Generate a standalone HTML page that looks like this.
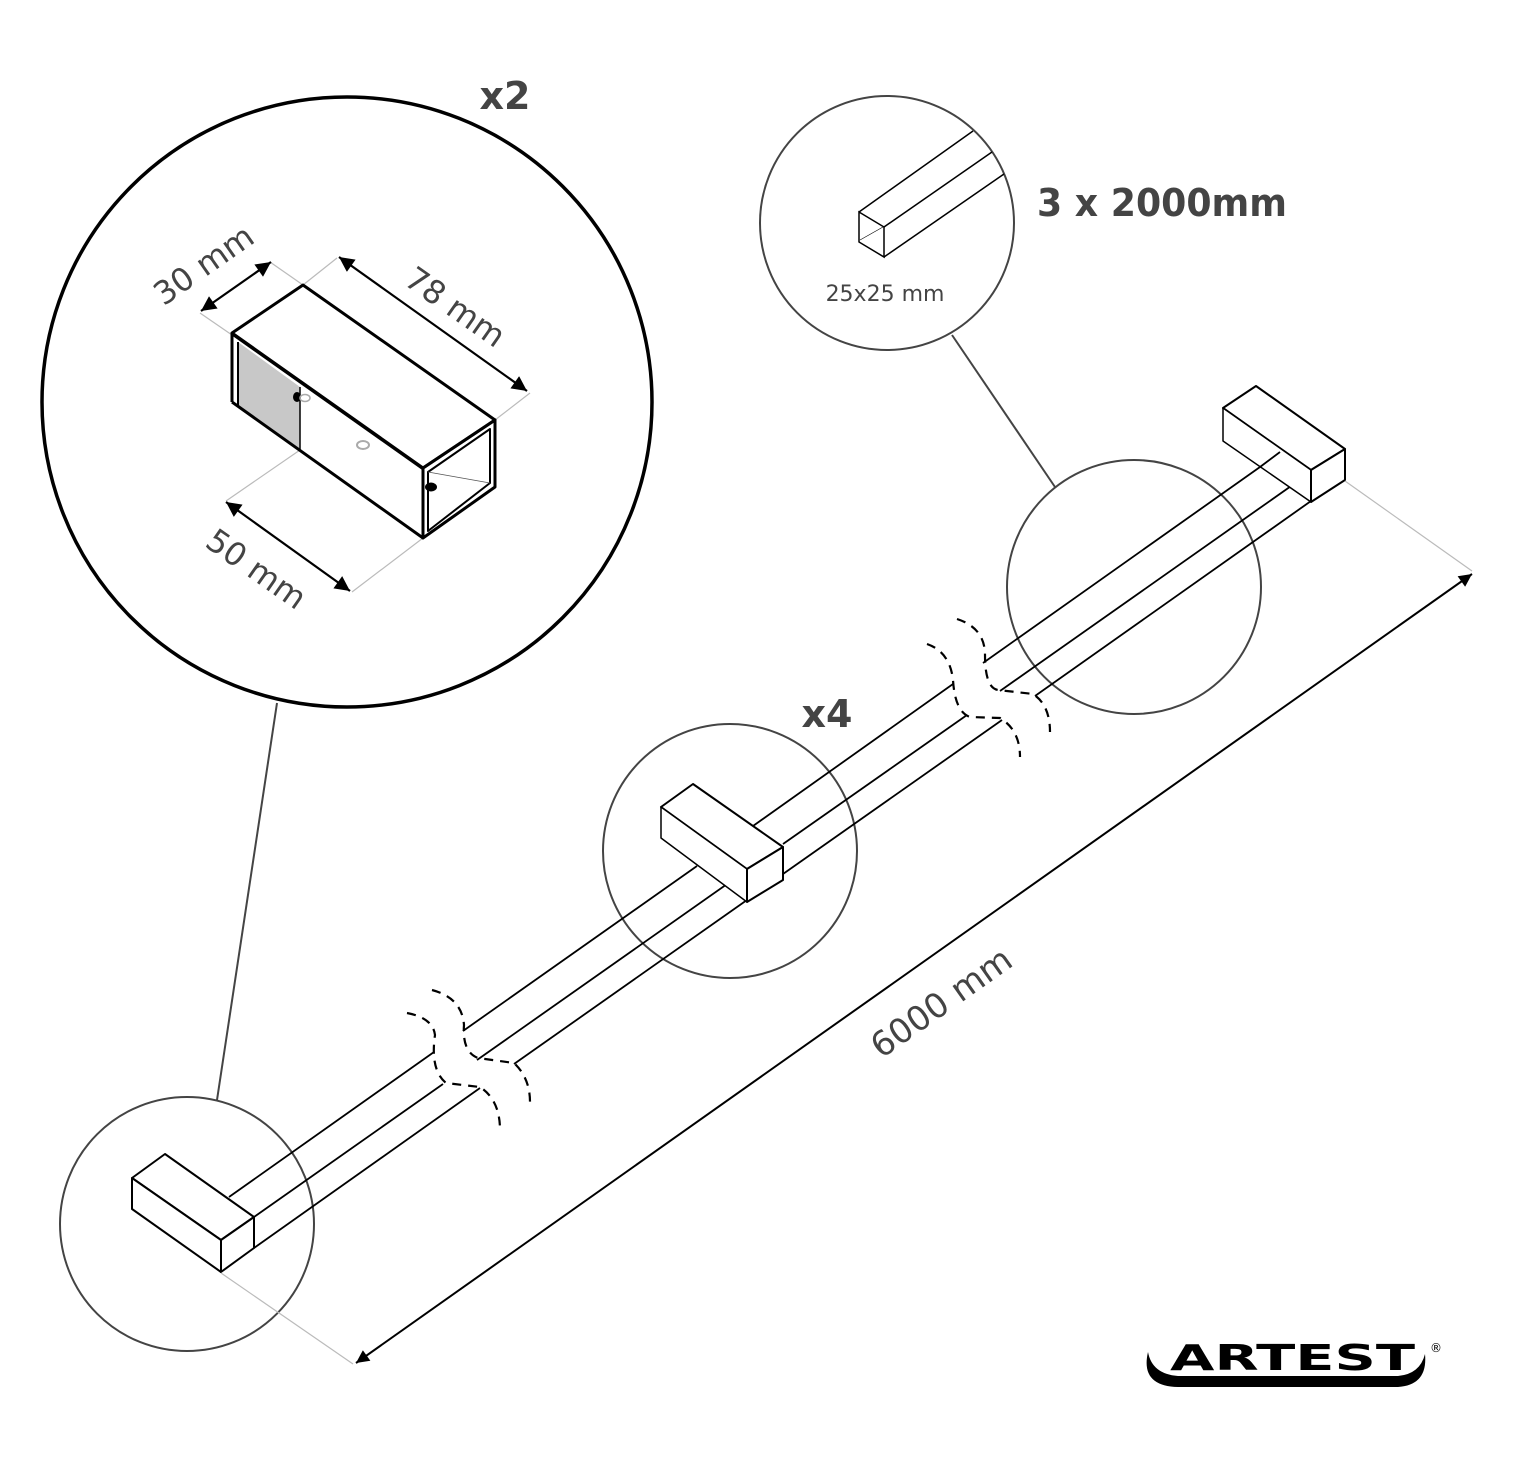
<!DOCTYPE html>
<html><head><meta charset="utf-8"><style>
html,body{margin:0;padding:0;background:#fff;}
svg{display:block;}
text{font-family:"DejaVu Sans","Liberation Sans",sans-serif;}
</style></head><body>
<svg width="1514" height="1482" viewBox="0 0 1514 1482" xmlns="http://www.w3.org/2000/svg">
<defs>
<marker id="ar" viewBox="0 0 10 10" refX="10" refY="5" markerWidth="20" markerHeight="13" markerUnits="userSpaceOnUse" orient="auto-start-reverse"><path d="M0,0 L10,5 L0,10 z" fill="#000"/></marker>
<marker id="arb" viewBox="0 0 10 10" refX="10" refY="5" markerWidth="24" markerHeight="15" markerUnits="userSpaceOnUse" orient="auto-start-reverse"><path d="M0,0 L10,5 L0,10 z" fill="#000"/></marker>
</defs>

<!-- Big circle -->
<circle cx="347" cy="402" r="305" fill="none" stroke="#000" stroke-width="3.5"/>
<line x1="277" y1="703" x2="217" y2="1100" stroke="#444" stroke-width="2"/>
<text x="505" y="109" font-size="38" font-weight="bold" fill="#444" text-anchor="middle">x2</text>

<g stroke="#bbb" stroke-width="1.2">
<line x1="200" y1="313" x2="232" y2="335"/>
<line x1="270" y1="262" x2="303" y2="285"/>
<line x1="303" y1="285" x2="337" y2="258"/>
<line x1="495" y1="420" x2="530" y2="393"/>
<line x1="300" y1="450" x2="226" y2="501"/>
<line x1="423" y1="538" x2="352" y2="592"/>
</g>
<polygon points="238,342 300,387 300,450 238,405" fill="#c8c8c8"/>
<g fill="none" stroke="#000" stroke-width="3" stroke-linejoin="round">
<polygon points="232,333 303,285 495,420 423,468"/>
<line x1="232" y1="333" x2="232" y2="402"/>
<line x1="232" y1="402" x2="423" y2="538"/>
<line x1="423" y1="468" x2="423" y2="538"/>
<polygon points="423,468 495,420 495,487 423,538"/>
<polygon points="428,472 490,429 490,483 428,531" stroke-width="2"/>
<line x1="238" y1="342" x2="238" y2="405" stroke-width="2"/>
<line x1="300" y1="387" x2="300" y2="450" stroke-width="1.5"/>
</g>
<line x1="232" y1="335" x2="423" y2="470" stroke="#000" stroke-width="1"/>
<line x1="428" y1="472" x2="490" y2="483" stroke="#555" stroke-width="0.8"/>
<ellipse cx="297" cy="397" rx="4" ry="5" fill="#000"/>
<ellipse cx="305" cy="398" rx="5" ry="3.5" fill="none" stroke="#aaa" stroke-width="1.5"/>
<ellipse cx="363" cy="445" rx="6" ry="4" fill="none" stroke="#aaa" stroke-width="2"/>
<ellipse cx="431" cy="487" rx="6" ry="4.5" fill="#000"/>
<g stroke="#000" stroke-width="2.2">
<line x1="201" y1="311" x2="271" y2="262" marker-start="url(#arb)" marker-end="url(#arb)"/>
<line x1="339" y1="257" x2="527" y2="391" marker-start="url(#arb)" marker-end="url(#arb)"/>
<line x1="226" y1="502" x2="350" y2="591" marker-start="url(#arb)" marker-end="url(#arb)"/>
</g>
<text font-size="32" fill="#444" text-anchor="middle" transform="translate(210,274) rotate(-35)">30 mm</text>
<text font-size="32" fill="#444" text-anchor="middle" transform="translate(449,316) rotate(35)">78 mm</text>
<text font-size="32" fill="#444" text-anchor="middle" transform="translate(250,578) rotate(35)">50 mm</text>

<!-- small circle -->
<circle cx="887" cy="223" r="127" fill="none" stroke="#444" stroke-width="2"/>
<line x1="952" y1="335" x2="1055" y2="487" stroke="#444" stroke-width="2"/>
<g fill="none" stroke="#000" stroke-width="1.5">
<polygon points="859,212 884,227 884,257 859,242"/>
<line x1="859" y1="212" x2="973" y2="131"/>
<line x1="884" y1="227" x2="992" y2="152"/>
<line x1="884" y1="257" x2="1004" y2="174"/>
<line x1="860" y1="240" x2="883" y2="227" stroke-width="0.6"/>
</g>
<text x="885" y="301" font-size="22" fill="#444" text-anchor="middle">25x25 mm</text>
<text x="1037" y="216" font-size="38" font-weight="bold" fill="#444" textLength="250" lengthAdjust="spacingAndGlyphs">3 x 2000mm</text>

<g fill="none" stroke="#444" stroke-width="2">
<circle cx="1134" cy="587" r="127"/>
<circle cx="730" cy="851" r="127"/>
<circle cx="187" cy="1224" r="127"/>
</g>
<text x="827" y="727" font-size="38" font-weight="bold" fill="#444" text-anchor="middle">x4</text>

<g stroke="#000" stroke-width="1.8" fill="none">
<line x1="229" y1="1197" x2="434" y2="1052"/>
<line x1="463" y1="1031" x2="697" y2="866"/>
<line x1="753" y1="826" x2="953" y2="684"/>
<line x1="983" y1="663" x2="1260" y2="467"/>
<line x1="254" y1="1217" x2="443" y2="1084"/>
<line x1="477" y1="1060" x2="747" y2="870"/>
<line x1="783" y1="844" x2="967" y2="715"/>
<line x1="1000" y1="691" x2="1311" y2="472"/>
<line x1="254" y1="1248" x2="480" y2="1088"/>
<line x1="514" y1="1064" x2="747" y2="900"/>
<line x1="783" y1="874" x2="1002" y2="720"/>
<line x1="1035" y1="696" x2="1311" y2="501"/>
</g>
<g stroke="#000" stroke-width="2.2" fill="none" stroke-dasharray="9,7">
<path d="M407,1013 Q433,1018 435,1035 Q430,1070 446,1083 L480,1087 Q500,1100 500,1130"/>
<path d="M432,990 Q462,998 464,1025 Q462,1052 478,1058 L514,1063 Q530,1078 530,1102"/>
<path d="M927,644 Q950,652 953,680 Q955,712 970,717 L1000,718 Q1020,730 1020,757"/>
<path d="M957,619 Q985,628 985,655 Q985,688 998,690 L1033,694 Q1050,705 1050,732"/>
</g>

<g fill="#fff" stroke="#000" stroke-width="2" stroke-linejoin="round">
<polygon points="132,1178 165,1154 254,1217 221,1240"/>
<polygon points="132,1178 221,1240 221,1272 132,1209"/>
<polygon points="221,1240 254,1217 254,1248 221,1272"/>
</g>
<g fill="#fff" stroke="#000" stroke-width="2" stroke-linejoin="round">
<polygon points="661,807 693,784 783,847 747,869"/>
<polygon points="661,807 747,869 747,902 661,838" stroke-width="1.5"/>
<polygon points="747,869 783,847 783,880 747,902"/>
</g>
<g fill="#fff" stroke="#000" stroke-width="2" stroke-linejoin="round">
<polygon points="1223,408 1256,386 1345,449 1311,470"/>
<polygon points="1223,408 1311,470 1311,502 1223,441" stroke-width="1.5"/>
<polygon points="1311,470 1345,449 1345,480 1311,502"/>
</g>
<line x1="1260" y1="467" x2="1280" y2="452" stroke="#000" stroke-width="1.8"/>

<g stroke="#bbb" stroke-width="1.2">
<line x1="221" y1="1273" x2="353" y2="1364"/>
<line x1="1345" y1="481" x2="1472" y2="571"/>
</g>
<line x1="356" y1="1363" x2="1472" y2="574" stroke="#000" stroke-width="2" marker-start="url(#ar)" marker-end="url(#ar)"/>
<text font-size="34" fill="#444" text-anchor="middle" transform="translate(948,1012) rotate(-35.3)">6000 mm</text>

<!-- logo -->
<text x="1170" y="1370" font-size="36" font-weight="900" font-family="Liberation Sans, sans-serif" fill="#000" textLength="245" lengthAdjust="spacingAndGlyphs">ARTEST</text>
<path d="M1148,1352 Q1140,1386 1178,1387 L1398,1387 Q1428,1385 1425,1354 Q1420,1374 1398,1376 L1178,1376 Q1152,1374 1148,1352 z" fill="#000"/>
<text x="1436" y="1352" font-size="12" fill="#000" text-anchor="middle">®</text>
</svg>
</body></html>
